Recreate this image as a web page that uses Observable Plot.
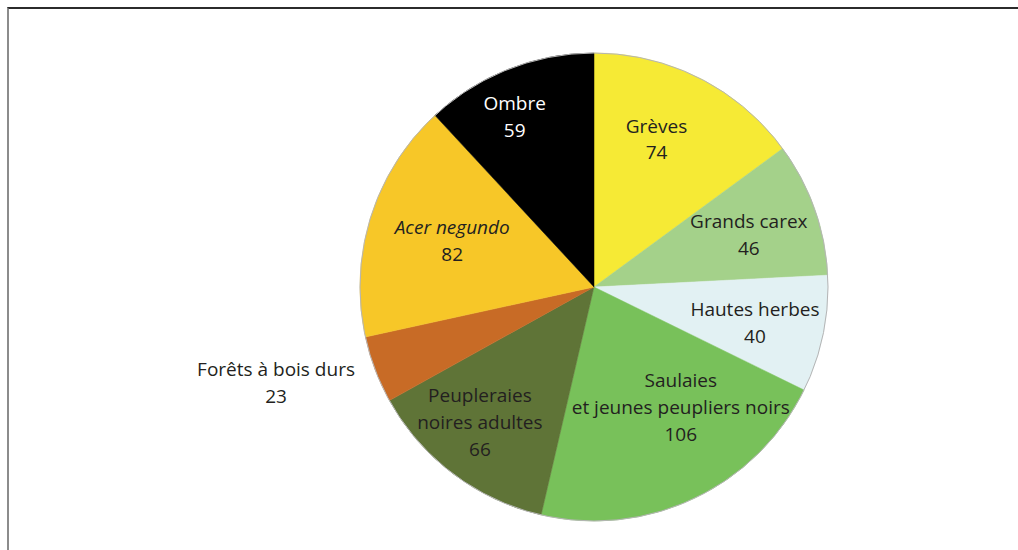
<!DOCTYPE html>
<html>
<head>
<meta charset="utf-8">
<script src="https://cdn.jsdelivr.net/npm/d3@7"></script>
<script src="https://cdn.jsdelivr.net/npm/@observablehq/plot@0.6"></script>
<style>
  html, body { margin: 0; padding: 0; background: #fff; width: 1018px; height: 550px; overflow: hidden; }
  #frame { position: absolute; left: 7px; top: 7px; right: 0; bottom: 0; border-top: 2px solid #2b2b2b; border-left: 2px solid #8c8c8c; }
  #chart { position: absolute; left: 0; top: 0; }
</style>
</head>
<body>
<div id="frame"></div>
<div id="chart"></div>
<script>
const categories = ["Grèves", "Grands carex", "Hautes herbes", "Saulaies\net jeunes peupliers noirs", "Peupleraies\nnoires adultes", "Forêts à bois durs", "Acer negundo", "Ombre"];
const values = [74, 46, 40, 106, 66, 23, 82, 59];
const colors = ["#f6ea35", "#a4d18a", "#e2f1f3", "#78c15a", "#5f7437", "#c86b26", "#f7c728", "#000000"];

// label placement tweaks (pixel nudges from the default bisector position)
const labelNudge = {
  "Grèves": [-12, -4],
  "Saulaies\net jeunes peupliers noirs": [16, -30],
  "Peupleraies\nnoires adultes": [-16, 2],
  "Forêts à bois durs": [-12, -22],
  "Acer negundo": [14, 0],
  "Ombre": [-20, -20]
};

const total = d3.sum(values);
const data = categories.map((c, i) => ({category: c, value: values[i], color: colors[i]}));
const arcs = d3.pie().sort(null).value(d => d.value)(data);
arcs.forEach(a => {
  const mid = (a.startAngle + a.endAngle) / 2;
  const share = a.data.value / total;
  const rr = share < 0.06 ? 1.4 : 0.7;
  a.lx = rr * Math.sin(mid);
  a.ly = rr * Math.cos(mid);
  const n = labelNudge[a.data.category] || [0, 0];
  a.ndx = n[0]; a.ndy = n[1];
  a.label = a.data.category + "\n" + a.data.value;
});

function wedges(index, scales) {
  const cx = scales.x(0), cy = scales.y(0), r = scales.x(1) - cx;
  const arc = d3.arc().innerRadius(0).outerRadius(r);
  const g = d3.create("svg:g").attr("transform", `translate(${cx},${cy})`);
  g.selectAll("path").data(arcs).join("path")
    .attr("d", arc)
    .attr("fill", d => d.data.color)
    .attr("stroke", d => d.data.color)
    .attr("stroke-width", 0.5);
  g.append("circle").attr("r", r).attr("fill", "none").attr("stroke", "#b5b5b5").attr("stroke-width", 1);
  return g.node();
}

const cx = 594, cy = 287, R = 234;
const textOpts = {
  text: "label",
  fontSize: 19, lineHeight: 1.42,
  fontFamily: "'Open Sans', sans-serif",
  textAnchor: "middle"
};
// each label drawn as its own text mark so that it can carry its own nudge
const labelMarks = arcs.flatMap(a => {
  const base = {...textOpts, x: "lx", y: "ly", dx: a.ndx, fill: a.data.color === "#000000" ? "#ffffff" : "#231f20"};
  if (a.data.category === "Acer negundo") {
    return [
      Plot.text([a], {...base, text: d => d.data.category, dy: a.ndy - 13.5, fontStyle: "italic"}),
      Plot.text([a], {...base, text: d => String(d.data.value), dy: a.ndy + 13.5})
    ];
  }
  return [Plot.text([a], {...base, dy: a.ndy})];
});

const chart = Plot.plot({
  width: 1018, height: 550,
  margin: 0,
  x: {domain: [-1, 1], range: [cx - R, cx + R], axis: null},
  y: {domain: [-1, 1], range: [cy + R, cy - R], axis: null},
  style: {background: "transparent"},
  marks: [wedges, ...labelMarks]
});
document.getElementById("chart").appendChild(chart);
</script>
</body>
</html>
